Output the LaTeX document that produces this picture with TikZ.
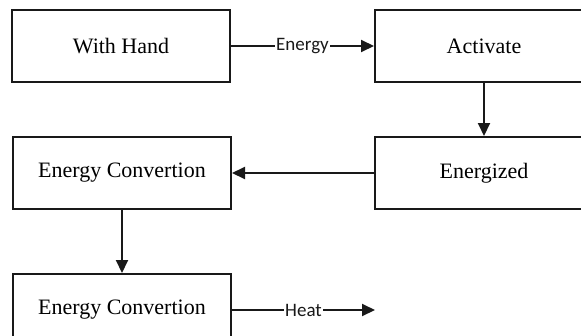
\documentclass[tikz,border=0pt]{standalone}
\usepackage{fontspec}
\setmainfont{Liberation Serif}
\newfontfamily\lblfont{Carlito}
\usetikzlibrary{arrows.meta, positioning}

\begin{document}
\begin{tikzpicture}[
        x=1pt, y=-1pt,
        every node/.style={font=\fontsize{22}{26}\selectfont},
        stage/.style={
          rectangle, draw=black!90, fill=white,
          line width=2pt, align=center,
          inner sep=4pt, minimum width=218pt, minimum height=72pt},
        flow/.style={-{Triangle[length=13pt, width=12pt]}, line width=2pt, black!90},
        lbl/.style={fill=white, inner sep=1pt, font=\lblfont\fontsize{19}{22}\selectfont}
      ]
        \useasboundingbox (0, 0) rectangle (581, 335);
        \clip (0, 0) rectangle (581, 335);
        \node[stage] (hand) at (121, 46) {With Hand};
        \node[stage] (act) at (484, 46) {Activate};
        \node[stage] (enzd) at (484, 173) {Energized};
        \node[stage] (conv1) at (122, 173) {Energy Convertion};
        \node[stage] (conv2) at (122, 310) {Energy Convertion};
        \coordinate (heatend) at (375, 310);
        \draw[flow] (hand) -- (act) node[midway, lbl]{Energy};
        \draw[flow] (act) -- (enzd);
        \draw[flow] (enzd) -- (conv1);
        \draw[flow] (conv1) -- (conv2);
        \draw[flow] (conv2) -- (heatend) node[midway, lbl]{Heat};
      \end{tikzpicture}
\end{document}
